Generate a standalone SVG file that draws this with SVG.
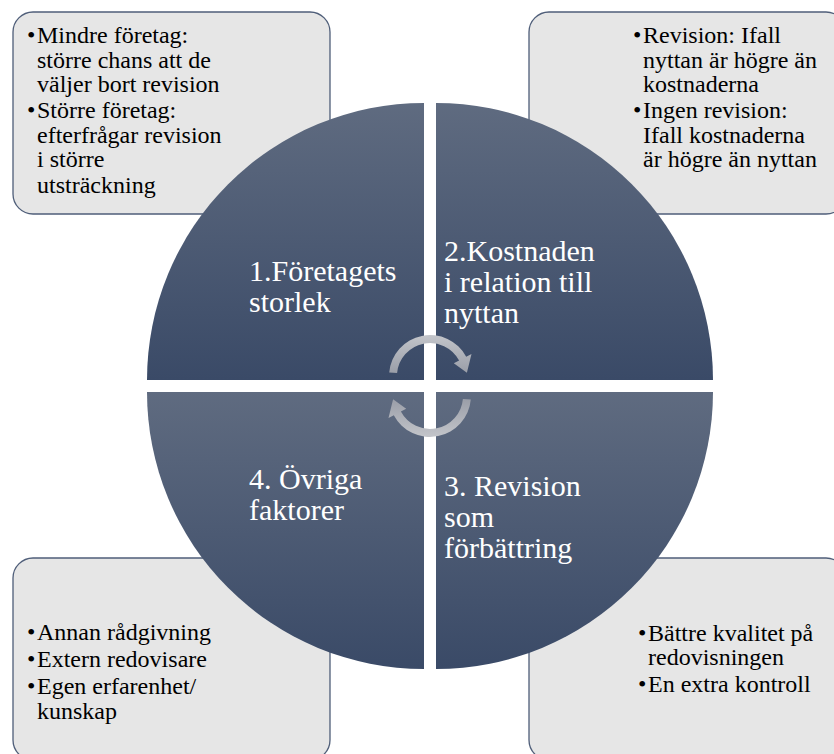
<svg xmlns="http://www.w3.org/2000/svg" width="834" height="754" viewBox="0 0 834 754">
  <defs>
    <linearGradient id="quadFill" x1="0" y1="0" x2="0" y2="1">
      <stop offset="0" stop-color="#5f6b80"/>
      <stop offset="1" stop-color="#3a4a67"/>
    </linearGradient>
    <linearGradient id="arrowFill" x1="0" y1="0" x2="0" y2="1">
      <stop offset="0" stop-color="#c3c5ca"/>
      <stop offset="1" stop-color="#9a9ea8"/>
    </linearGradient>
  </defs>
  <style>
    .box { fill: #e6e6e6; stroke: #4f5e79; stroke-width: 1.3; }
    .quad { fill: url(#quadFill); }
    .arrow { fill: url(#arrowFill); }
    text { font-family: 'Times New Roman', 'Liberation Serif', 'DejaVu Serif', 'Noto Serif', Times, serif; }
    .bt { font-size: 24px; fill: #000; }
    .ql { font-size: 30px; fill: #fff; }
  </style>

  <rect width="834" height="754" fill="#fff"/>

  <!-- side boxes with bullet lists -->
  <g id="box-size">
    <rect class="box" x="13" y="12" width="317" height="202" rx="20"/>
    <text class="bt" x="27" y="43">•</text>
    <text class="bt" x="37" y="43">Mindre företag:</text>
    <text class="bt" x="37" y="68">större chans att de</text>
    <text class="bt" x="37" y="92">väljer bort revision</text>
    <text class="bt" x="27" y="118">•</text>
    <text class="bt" x="37" y="118">Större företag:</text>
    <text class="bt" x="37" y="143">efterfrågar revision</text>
    <text class="bt" x="37" y="167">i större</text>
    <text class="bt" x="37" y="193">utsträckning</text>
  </g>

  <g id="box-cost">
    <rect class="box" x="529" y="12" width="317" height="202" rx="20"/>
    <text class="bt" x="633" y="43">•</text>
    <text class="bt" x="643" y="43">Revision: Ifall</text>
    <text class="bt" x="643" y="68">nyttan är högre än</text>
    <text class="bt" x="643" y="92">kostnaderna</text>
    <text class="bt" x="633" y="118">•</text>
    <text class="bt" x="643" y="118">Ingen revision:</text>
    <text class="bt" x="643" y="143">Ifall kostnaderna</text>
    <text class="bt" x="643" y="167">är högre än nyttan</text>
  </g>

  <g id="box-other">
    <rect class="box" x="13" y="558" width="317" height="202" rx="20"/>
    <text class="bt" x="27" y="640">•</text>
    <text class="bt" x="37" y="640">Annan rådgivning</text>
    <text class="bt" x="27" y="667">•</text>
    <text class="bt" x="37" y="667">Extern redovisare</text>
    <text class="bt" x="27" y="694">•</text>
    <text class="bt" x="37" y="694">Egen erfarenhet/</text>
    <text class="bt" x="37" y="719">kunskap</text>
  </g>

  <g id="box-improve">
    <rect class="box" x="529" y="558" width="317" height="202" rx="20"/>
    <text class="bt" x="638" y="641">•</text>
    <text class="bt" x="648" y="641">Bättre kvalitet på</text>
    <text class="bt" x="648" y="665">redovisningen</text>
    <text class="bt" x="638" y="692">•</text>
    <text class="bt" x="648" y="692">En extra kontroll</text>
  </g>

  <!-- four quadrants of the central circle -->
  <g id="quad-1">
    <path class="quad" d="M424 380 L147 380 A277 277 0 0 1 424 103 Z"/>
    <text class="ql" x="249" y="281">1.Företagets</text>
    <text class="ql" x="249" y="312">storlek</text>
  </g>
  <g id="quad-2">
    <path class="quad" d="M436 380 L436 103 A277 277 0 0 1 713 380 Z"/>
    <text class="ql" x="444" y="261">2.Kostnaden</text>
    <text class="ql" x="444" y="292">i relation till</text>
    <text class="ql" x="444" y="323">nyttan</text>
  </g>
  <g id="quad-3">
    <path class="quad" d="M436 392 L713 392 A277 277 0 0 1 436 669 Z"/>
    <text class="ql" x="444" y="496">3. Revision</text>
    <text class="ql" x="444" y="527">som</text>
    <text class="ql" x="444" y="558">förbättring</text>
  </g>
  <g id="quad-4">
    <path class="quad" d="M424 392 L424 669 A277 277 0 0 1 147 392 Z"/>
    <text class="ql" x="249" y="489">4. Övriga</text>
    <text class="ql" x="249" y="520">faktorer</text>
  </g>

  <!-- circular arrows in the centre -->
  <g id="connectors">
    <path class="arrow" d="M389.2 372.4 A41 41 0 0 1 466.2 356.75 L471.5 353.9 L466.9 372.8 L453.8 363.3 L459.1 360.5 A33 33 0 0 0 397.1 373.1 Z"/>
    <path class="arrow" transform="rotate(180 430 386)" d="M389.2 372.4 A41 41 0 0 1 466.2 356.75 L471.5 353.9 L466.9 372.8 L453.8 363.3 L459.1 360.5 A33 33 0 0 0 397.1 373.1 Z"/>
  </g>
</svg>
